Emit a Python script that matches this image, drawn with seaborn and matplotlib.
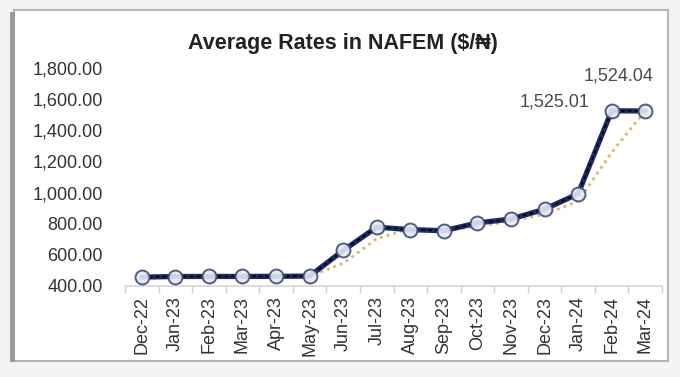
import matplotlib
matplotlib.use("Agg")
import matplotlib.pyplot as plt
import matplotlib.patches as mpatches
from matplotlib.ticker import FuncFormatter, FixedLocator
import seaborn as sns
import pandas as pd
import numpy as np

months = ["Dec-22", "Jan-23", "Feb-23", "Mar-23", "Apr-23", "May-23", "Jun-23",
          "Jul-23", "Aug-23", "Sep-23", "Oct-23", "Nov-23", "Dec-23", "Jan-24",
          "Feb-24", "Mar-24"]
rates = [457.0, 461.0, 461.5, 461.5, 462.0, 463.5, 628.0,
         778.0, 762.0, 755.0, 805.0, 830.0, 893.0, 992.0,
         1525.01, 1524.04]
labelled = {"Feb-24": "1,525.01", "Mar-24": "1,524.04"}
y_ticks = [400, 600, 800, 1000, 1200, 1400, 1600, 1800]

sns.set_theme(style="white")
plt.rcParams['font.family'] = ['Liberation Sans', 'DejaVu Sans']

df = pd.DataFrame({"month": months, "rate": rates})
df["pos"] = np.arange(len(df))
df["ma2"] = df["rate"].rolling(2).mean()

fig = plt.figure(figsize=(6.8, 3.77), dpi=100)
fig.patch.set_facecolor("#f4f4f4")

# chart frame (background axes)
W, H = 680, 377
bg = fig.add_axes([0, 0, 1, 1], zorder=-10)
bg.set_xlim(0, W)
bg.set_ylim(H, 0)
bg.axis("off")
bg.add_patch(mpatches.Rectangle((14, 10), 654, 351, facecolor="white",
                                edgecolor="#b5b5b5", linewidth=1.5))
bg.add_patch(mpatches.Rectangle((10, 12), 5, 350, facecolor="#9a9a9a",
                                edgecolor="none"))

ax = fig.add_axes([125 / W, (H - 286) / H, (662 - 125) / W, (286 - 68) / H])
ax.set_facecolor("none")

# moving-average trendline (tan dotted)
sns.lineplot(data=df, x="pos", y="ma2", ax=ax, color="#e3b466", linewidth=2.0,
             linestyle=(0, (1, 1.5)), zorder=2)
# main series
sns.lineplot(data=df, x="pos", y="rate", ax=ax, color="#1b2a66", linewidth=3.8,
             zorder=3)
# overlay dashed black series
sns.lineplot(data=df, x="pos", y="rate", ax=ax, color="#000000", linewidth=1.1,
             linestyle=(0, (2.5, 2)), zorder=4)
sns.scatterplot(data=df, x="pos", y="rate", ax=ax, s=100, marker="o",
                facecolor="#e4eaf3", edgecolor="#3d4b78", linewidth=1.4,
                alpha=0.9, zorder=5)

for _, r in df.iterrows():
    if r["month"] == "Feb-24":
        ax.annotate(labelled[r["month"]], (r["pos"], r["rate"]),
                    xytext=(-16, 6), textcoords="offset points",
                    ha="right", va="center", fontsize=13, color="#4a4a4a",
                    annotation_clip=False)
    elif r["month"] == "Mar-24":
        ax.annotate(labelled[r["month"]], (r["pos"], r["rate"]),
                    xytext=(-19, 25), textcoords="offset points",
                    ha="center", va="center", fontsize=13, color="#4a4a4a",
                    annotation_clip=False)

ax.set_xlim(-0.5, len(months) - 0.5)
ax.set_ylim(400, 1800)
ax.set_xticks(df["pos"])
ax.set_xticklabels(months, rotation=90, fontsize=13, color="#333333")
ax.xaxis.set_minor_locator(FixedLocator(np.arange(-0.5, len(months), 1.0)))
ax.tick_params(axis="x", which="major", length=0, pad=7)
ax.tick_params(axis="x", which="minor", length=5, color="#d0d0d0", width=1,
               direction="out", bottom=True)
ax.set_yticks(y_ticks)
ax.yaxis.set_major_formatter(FuncFormatter(lambda v, p: f"{v:,.2f}"))
ax.tick_params(axis="y", length=0, labelsize=13, labelcolor="#333333", pad=16)
ax.set_xlabel("")
ax.set_ylabel("")
for side in ["top", "right", "left"]:
    ax.spines[side].set_visible(False)
ax.spines["bottom"].set_color("#d5d5d5")
ax.spines["bottom"].set_linewidth(1.2)
ax.grid(False)

fig.text(343 / W, (H - 43) / H, "Average Rates in NAFEM ($/₦)", ha="center",
         va="center", fontsize=15.5, fontweight="bold", color="#222222")

fig.savefig("out.png", dpi=100, facecolor=fig.get_facecolor())
